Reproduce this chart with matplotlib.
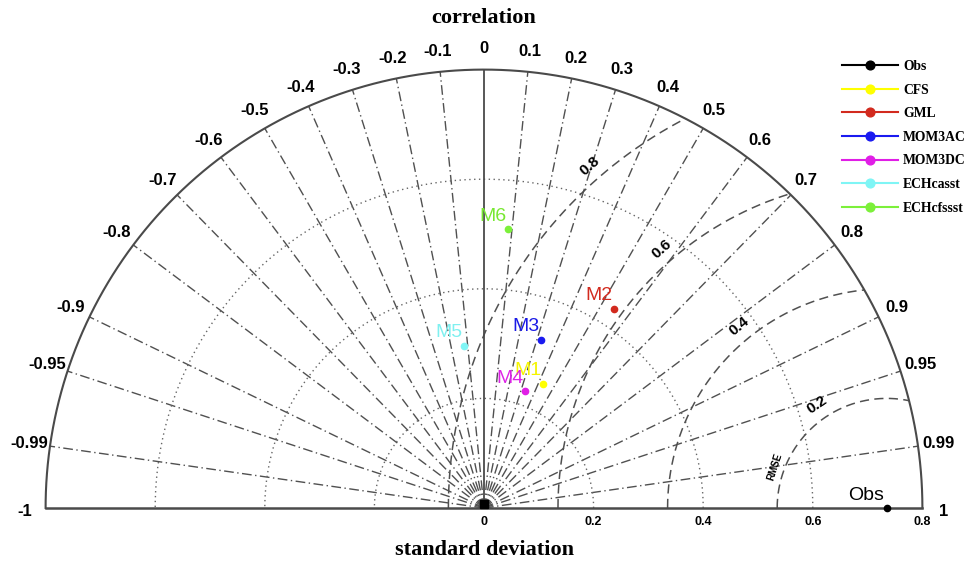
import numpy as np
import matplotlib
matplotlib.use('Agg')
import matplotlib.pyplot as plt

# ---- data ----
models = ['Obs', 'CFS', 'GML', 'MOM3AC', 'MOM3DC', 'ECHcasst', 'ECHcfssst']
point_labels = ['Obs', 'M1', 'M2', 'M3', 'M4', 'M5', 'M6']
std_dev = [0.735, 0.251, 0.434, 0.324, 0.226, 0.298, 0.511]
correlation = [1.0, 0.430, 0.547, 0.321, 0.331, -0.122, 0.086]
colors = ['#000000', '#FFFF00', '#D22A1E', '#1A1AF0', '#E01EE6', '#7FF5F5', '#7CF03A']
label_colors = ['#000000', '#F5F500', '#D22A1E', '#1A1AE6', '#DD22E6', '#7FF0F0', '#78E832']

corr_ticks = [-1, -0.99, -0.95, -0.9, -0.8, -0.7, -0.6, -0.5, -0.4, -0.3, -0.2, -0.1, 0,
              0.1, 0.2, 0.3, 0.4, 0.5, 0.6, 0.7, 0.8, 0.9, 0.95, 0.99, 1]
corr_tick_labels = ['-1', '-0.99', '-0.95', '-0.9', '-0.8', '-0.7', '-0.6', '-0.5', '-0.4',
                    '-0.3', '-0.2', '-0.1', '0', '0.1', '0.2', '0.3', '0.4', '0.5', '0.6',
                    '0.7', '0.8', '0.9', '0.95', '0.99', '1']
std_ticks = [0, 0.2, 0.4, 0.6, 0.8]
std_tick_labels = ['0', '0.2', '0.4', '0.6', '0.8']
std_circles = [0.2, 0.4, 0.6]
rmse_levels = [0.2, 0.4, 0.6, 0.8]
rmse_labels = ['0.2', '0.4', '0.6', '0.8']
rmse_label_angle = [124, 129, 131, 131]

R = 0.8
SANS = 'Liberation Sans'
SERIF = 'Liberation Serif'

fig = plt.figure(figsize=(9.72, 5.65), dpi=100)
ax = fig.add_axes([0, 0, 1, 1])
S = 548.0
ax.set_xlim(-484 / S, (972 - 484) / S)
ax.set_ylim(-(565 - 508) / S, 508 / S)
ax.axis('off')

gray = '#505050'

# radial correlation lines
for c in corr_ticks:
    if abs(c) == 1 or c == 0:
        continue
    th = np.arccos(c)
    ax.plot([0, R * np.cos(th)], [0, R * np.sin(th)], color=gray, lw=1.0,
            ls=(0, (7, 2.5, 1, 2.5)), zorder=1)

# std dotted circles
t = np.linspace(0, np.pi, 600)
for s in std_circles:
    ax.plot(s * np.cos(t), s * np.sin(t), color='#666666', lw=1.0, ls=(0, (1, 2.5)), zorder=1)

# RMSE circles centred on obs
obs = std_dev[0]
for r, lab, ang in zip(rmse_levels, rmse_labels, rmse_label_angle):
    cmin = (R ** 2 - obs ** 2 - r ** 2) / (2 * obs * r)
    t0 = np.arccos(np.clip(cmin, -1, 1))
    tt = np.linspace(np.pi, t0, 400)
    ax.plot(obs + r * np.cos(tt), r * np.sin(tt), color=gray, lw=1.1,
            ls=(0, (6, 3.5)), zorder=1)
    a = np.deg2rad(ang)
    d = r + 0.027
    ax.text(obs + d * np.cos(a), d * np.sin(a), lab, rotation=ang - 90,
            ha='center', va='center', fontsize=11, fontweight='bold', family=SANS,
            rotation_mode='anchor')
ax.text((775 - 484) / S, (508 - 467) / S, 'RMSE', rotation=72, ha='center', va='center',
        fontsize=7, fontweight='bold', family=SANS, rotation_mode='anchor')

# frame: outer arc, baseline, zero-correlation axis
ax.plot(R * np.cos(t), R * np.sin(t), color='#4a4a4a', lw=1.5, zorder=2)
ax.plot([-R, R], [0, 0], color='#4a4a4a', lw=1.8, zorder=2)
ax.plot([0, 0], [0, R], color='#4a4a4a', lw=1.3, zorder=2)
ax.plot([0], [0.008], marker='s', color='black', ms=6, zorder=3)

# correlation tick labels
for c, lab in zip(corr_ticks, corr_tick_labels):
    th = np.arccos(c)
    rl = 0.838
    y = rl * np.sin(th)
    if abs(c) == 1:
        y = -0.007
    ax.text(rl * np.cos(th), y, lab, ha='center', va='center', fontsize=12,
            fontweight='bold', family=SANS)

# std tick labels
for s, lab in zip(std_ticks, std_tick_labels):
    ax.text(s, -0.026, lab, ha='center', va='center', fontsize=9, fontweight='bold',
            family=SANS)

ax.text(0, (508 - 18) / S, 'correlation', ha='center', va='center', fontsize=16,
        fontweight='bold', family=SERIF)
ax.text(0, -(550 - 508) / S, 'standard deviation', ha='center', va='center', fontsize=16,
        fontweight='bold', family=SERIF)

# points
handles = []
for m, pl, s, c, col, lcol in zip(models, point_labels, std_dev, correlation, colors, label_colors):
    th = np.arccos(c)
    x, y = s * np.cos(th), s * np.sin(th)
    h, = ax.plot([x], [y], marker='o', ms=4.5, color=col, ls='-', lw=1.5, label=m, zorder=4)
    handles.append(h)
    off = (-21 * 0.72, 13 * 0.72) if pl == 'Obs' else (-15 * 0.72, 13 * 0.72)
    ax.annotate(pl, (x, y), xytext=off, textcoords='offset points', ha='center',
                va='center', fontsize=14, color=lcol, family=SANS, zorder=5)

leg = ax.legend(handles=handles, loc='upper left', bbox_to_anchor=(842 / 972, 1 - 60 / 565),
                bbox_transform=fig.transFigure, frameon=False, borderpad=0, borderaxespad=0,
                handlelength=4.1, handletextpad=0.4, labelspacing=0.78, numpoints=1,
                prop={'family': SERIF, 'weight': 'bold', 'size': 9.8}, markerscale=1.4)

fig.savefig('out.png', dpi=100)
